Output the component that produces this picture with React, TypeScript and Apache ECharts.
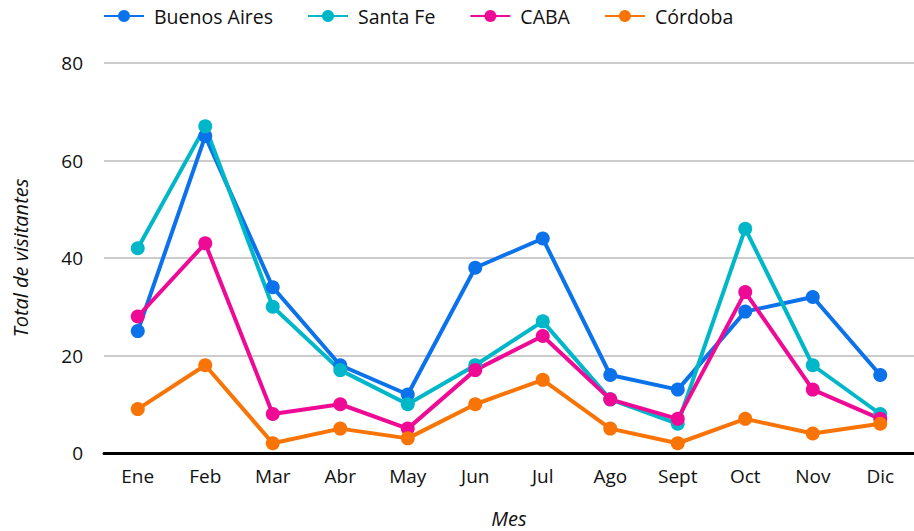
import React, { useEffect, useRef } from "react";
import * as echarts from "echarts";

const months = ["Ene", "Feb", "Mar", "Abr", "May", "Jun", "Jul", "Ago", "Sept", "Oct", "Nov", "Dic"];
const buenosAires = [25, 65, 34, 18, 12, 38, 44, 16, 13, 29, 32, 16];
const santaFe = [42, 67, 30, 17, 10, 18, 27, 11, 6, 46, 18, 8];
const caba = [28, 43, 8, 10, 5, 17, 24, 11, 7, 33, 13, 7];
const cordoba = [9, 18, 2, 5, 3, 10, 15, 5, 2, 7, 4, 6];

const seriesDefs = [
  { name: "Buenos Aires", data: buenosAires, color: "#0b72eb" },
  { name: "Santa Fe", data: santaFe, color: "#00b6c9" },
  { name: "CABA", data: caba, color: "#ef0a96" },
  { name: "Córdoba", data: cordoba, color: "#f87406" },
];

const FONT = "'Open Sans', sans-serif";

export default function App() {
  const ref = useRef<HTMLDivElement>(null);
  useEffect(() => {
    if (!ref.current) return;
    const chart = echarts.init(ref.current, null, { renderer: "svg" });
    chart.setOption({
      animation: false,
      textStyle: { fontFamily: FONT },
      color: seriesDefs.map((s) => s.color),
      legend: {
        left: 98,
        top: 1,
        itemWidth: 40,
        itemHeight: 15,
        itemGap: 34,
        textStyle: { fontFamily: FONT, fontSize: 19.5, color: "#111", padding: [0, 0, 0, 5] },
        data: seriesDefs.map((s) => s.name),
      },
      grid: { left: 104, right: 0, top: 63, bottom: 78, containLabel: false, outerBoundsMode: "none" },
      xAxis: {
        type: "category",
        data: months,
        boundaryGap: true,
        name: "Mes",
        nameLocation: "middle",
        nameGap: 55,
        nameTextStyle: { fontFamily: FONT, fontSize: 20, fontStyle: "italic", color: "#111" },
        axisLine: { lineStyle: { color: "#000", width: 3 } },
        axisTick: { show: false },
        axisLabel: { fontFamily: FONT, fontSize: 19, color: "#111", margin: 13 },
      },
      yAxis: {
        type: "value",
        min: 0,
        max: 80,
        interval: 20,
        name: "Total de visitantes",
        nameLocation: "middle",
        nameGap: 74,
        nameRotate: 90,
        nameTextStyle: { fontFamily: FONT, fontSize: 20, fontStyle: "italic", color: "#111" },
        axisLine: { show: false },
        axisTick: { show: false },
        axisLabel: { fontFamily: FONT, fontSize: 19, color: "#111", margin: 21 },
        splitLine: { lineStyle: { color: "#cccccc", width: 2 } },
      },
      series: seriesDefs.map((s) => ({
        name: s.name,
        type: "line",
        data: s.data,
        symbol: "circle",
        symbolSize: 14,
        lineStyle: { width: 4, color: s.color },
        itemStyle: { color: s.color },
        emphasis: { disabled: true },
      })),
    });
    return () => chart.dispose();
  }, []);
  return <div ref={ref} style={{ width: 914, height: 531, position: "absolute", left: 0, top: 0 }} />;
}
